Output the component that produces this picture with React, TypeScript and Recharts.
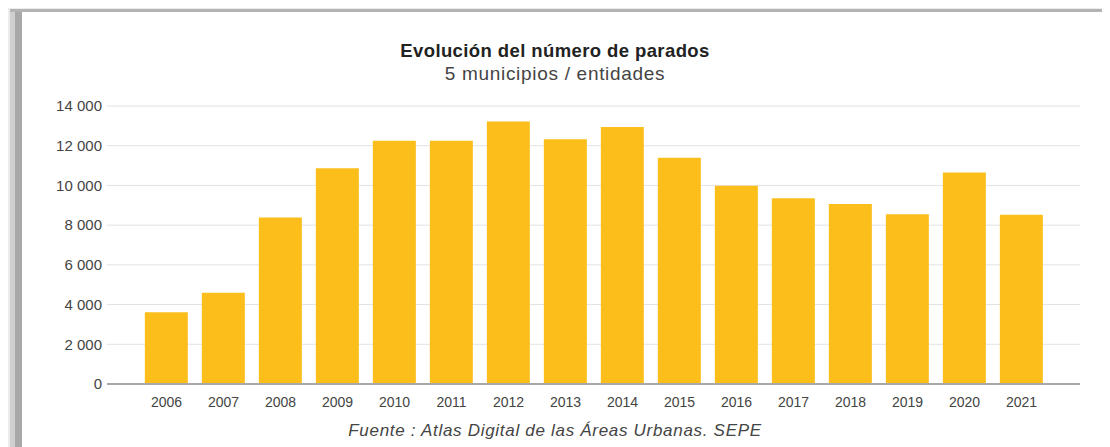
import React from "react";
import { BarChart, Bar, XAxis, YAxis, CartesianGrid } from "recharts";

const years = ["2006","2007","2008","2009","2010","2011","2012","2013","2014","2015","2016","2017","2018","2019","2020","2021"];
const parados = [3610, 4600, 8380, 10870, 12250, 12250, 13220, 12330, 12940, 11400, 9980, 9360, 9070, 8550, 10650, 8520];
const yTicks = [0, 2000, 4000, 6000, 8000, 10000, 12000, 14000];

const title = "Evolución del número de parados";
const subtitle = "5 municipios / entidades";
const source = "Fuente : Atlas Digital de las Áreas Urbanas. SEPE";

const data = years.map((y, i) => ({ year: y, value: parados[i] }));

const fmt = (v: number) => {
  const s = String(Math.round(v));
  return s.replace(/\B(?=(\d{3})+(?!\d))/g, " ");
};

const FONT = "'Liberation Sans', Arial, sans-serif";

export default function App() {
  return (
    <div
      style={{
        position: "relative",
        width: 1110,
        height: 447,
        margin: "-8px 0 0 -8px",
        overflow: "hidden",
        background: "#ececec",
        fontFamily: FONT,
      }}
    >
      <div
        style={{
          position: "absolute",
          left: 10,
          top: 9,
          right: 0,
          bottom: 0,
          background: "#ffffff",
          borderTop: "3px solid #b3b3b3",
          boxShadow: "inset 5px 0 0 #d0d0d0, inset 12px 0 0 #a8a8a8",
        }}
      />
      <div
        style={{
          position: "absolute",
          left: 0,
          width: 1110,
          top: 42,
          textAlign: "center",
          fontSize: 18.5,
          lineHeight: "18px",
          fontWeight: "bold",
          color: "#222",
          letterSpacing: 0.4,
        }}
      >
        {title}
      </div>
      <div
        style={{
          position: "absolute",
          left: 0,
          width: 1110,
          top: 65,
          textAlign: "center",
          fontSize: 19,
          lineHeight: "18px",
          color: "#444",
          letterSpacing: 0.7,
        }}
      >
        {subtitle}
      </div>
      <div style={{ position: "absolute", left: 0, top: 0 }}>
        <BarChart
          width={1110}
          height={447}
          data={data}
          margin={{ top: 106, right: 30, bottom: 33, left: 0 }}
          barCategoryGap="12%"
        >
          <CartesianGrid vertical={false} stroke="#e2e2e2" strokeWidth={1} />
          <XAxis
            dataKey="year"
            padding={{ left: 31, right: 30 }}
            height={30}
            axisLine={{ stroke: "#a8a8a8", strokeWidth: 2 }}
            tickLine={false}
            tickSize={0}
            tickMargin={13}
            tick={{ fill: "#444", fontSize: 14, fontFamily: FONT }}
            interval={0}
          />
          <YAxis
            width={107}
            domain={[0, 14000]}
            ticks={yTicks}
            tickFormatter={fmt}
            axisLine={false}
            tickLine={false}
            tickSize={0}
            tickMargin={5}
            tick={{ fill: "#444", fontSize: 15, fontFamily: FONT }}
          />
          <Bar dataKey="value" fill="#fbbe1b" isAnimationActive={false} />
        </BarChart>
      </div>
      <div
        style={{
          position: "absolute",
          left: 0,
          width: 1110,
          top: 423,
          textAlign: "center",
          fontSize: 17,
          lineHeight: "16px",
          fontStyle: "italic",
          color: "#444",
          letterSpacing: 0.7,
        }}
      >
        {source}
      </div>
    </div>
  );
}
